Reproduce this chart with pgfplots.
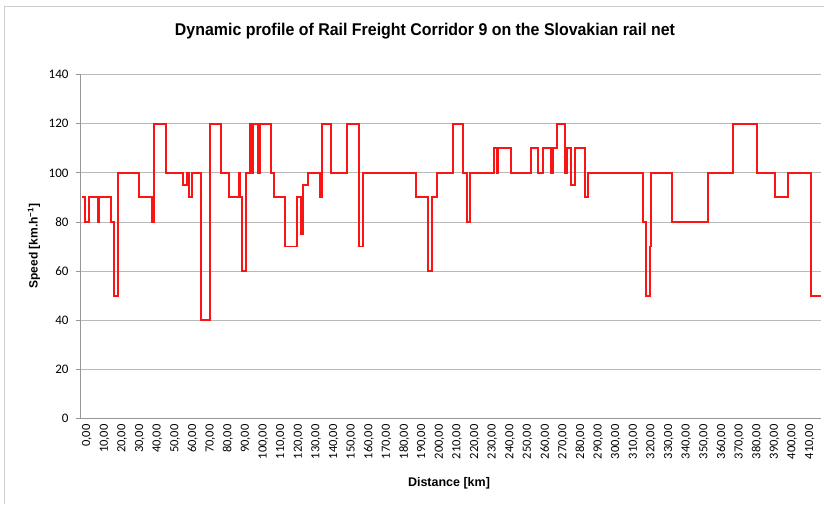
\documentclass[border=0pt]{standalone}
\usepackage{pgfplots}
\pgfplotsset{compat=1.18}
\usepackage{fontspec}
\setmainfont{Liberation Sans}
\newfontfamily\calibri{Carlito}
\definecolor{gridgray}{RGB}{185,185,185}
\definecolor{axgray}{RGB}{150,150,150}
\definecolor{framegray}{RGB}{205,205,205}
\definecolor{linered}{RGB}{250,20,20}
\pgfplotstableread{
km speed
0 90
1.7 80
4.1 90
8.9 80
9.8 90
16.3 80
18.2 50
20.6 100
32.5 90
39.5 80
40.8 120
47.8 100
57.5 95
59.7 100
60.9 90
62.4 100
67.3 40
72.4 120
79.0 100
83.2 90
89.2 100
89.8 90
90.6 60
93.0 100
95.3 120
95.8 100
96.3 120
96.8 100
97.3 120
100.0 100
100.8 120
107.2 100
109.1 90
115.1 70
121.8 90
124.1 75
125.2 95
128.4 100
135.0 90
136.3 120
141.1 100
150.5 120
157.3 70
159.2 100
189.3 90
196.4 60
198.7 90
201.5 100
210.6 120
216.3 100
218.2 80
220.1 100
233.7 110
235.2 100
236.1 110
243.2 100
254.5 110
258.8 100
261.7 110
266.0 100
267.3 110
269.3 120
274.0 100
275.3 110
277.2 95
279.6 110
285.3 90
286.8 100
318.0 80
319.9 50
322.2 70
322.8 100
334.5 80
355.3 100
369.4 120
382.7 100
393.1 90
400.3 100
413.5 50
419 50
}\profile
\begin{document}
\begin{tikzpicture}[x=1pt,y=1pt]
\useasboundingbox (0,0) rectangle (824,504);
\fill[white] (0,0) rectangle (824,504);
\draw[framegray, line width=1pt] (4,0) -- (4,497) -- (824,497);
\begin{axis}[
  at={(80.7pt,85.7pt)}, anchor=south west,
  scale only axis, width=740pt, height=343.6pt,
  xmin=-0.7, xmax=419, ymin=0, ymax=140,
  axis x line*=bottom, axis y line*=left,
  axis line style={draw=axgray, line width=0.9pt, -},
  ymajorgrids, grid style={draw=gridgray, line width=0.9pt},
  xtick={0,10,...,410},
  ytick={0,20,...,140},
  /pgf/number format/assume math mode=true,
  xticklabel={\pgfmathprintnumber[fixed,fixed zerofill,precision=2,use comma]{\tick}},
  yticklabel={\pgfmathprintnumber[fixed,precision=0]{\tick}},
  xticklabel style={font=\calibri\fontsize{12.5}{13}\selectfont, rotate=90, anchor=east, inner sep=1pt, yshift=-5pt},
  yticklabel style={font=\calibri\fontsize{13}{14}\selectfont, anchor=east, inner sep=1pt, xshift=-6pt},
  xtick style={draw=none},
  ytick style={draw=axgray, line width=0.9pt},
  tick align=outside,
  major tick length=5pt,
  clip=false,
]
\addplot[const plot, draw=linered, line width=1.9pt, line join=miter] table[x=km, y=speed] {\profile};
\end{axis}
\node[anchor=center] at (425,473) {\resizebox{500pt}{\height}{\fontsize{17}{20}\selectfont\bfseries Dynamic profile of Rail Freight Corridor 9 on the Slovakian rail net}};
\node[rotate=90, anchor=center] at (34,258) {\fontsize{12}{14}\selectfont\bfseries Speed [km.h\textsuperscript{−1}]};
\node[anchor=center] at (449,21) {\fontsize{12.5}{14}\selectfont\bfseries Distance [km]};
\end{tikzpicture}
\end{document}
